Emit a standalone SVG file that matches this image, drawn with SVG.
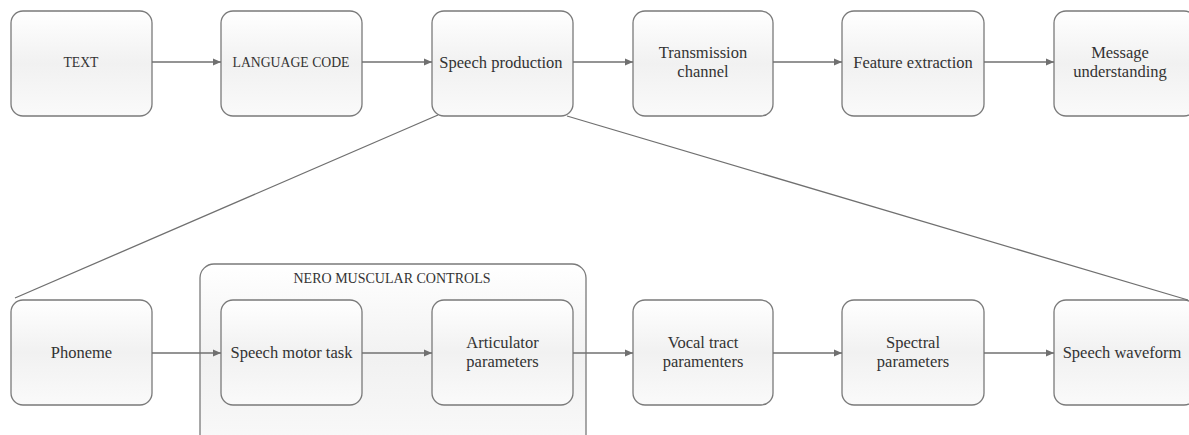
<svg xmlns="http://www.w3.org/2000/svg" width="1189" height="435" viewBox="0 0 1189 435">
<defs>
<linearGradient id="g" x1="0" y1="0" x2="0" y2="1">
<stop offset="0" stop-color="#ffffff"/>
<stop offset="0.5" stop-color="#f1f1f1"/>
<stop offset="1" stop-color="#fafafa"/>
</linearGradient>
<marker id="ah" markerWidth="8" markerHeight="8" refX="8" refY="4" orient="auto" markerUnits="userSpaceOnUse">
<path d="M0,0.5 L8,4 L0,7.5 Z" fill="#707070"/>
</marker>
<style>
.box{fill:url(#g);stroke:#7a7a7a;stroke-width:1.3}
.t{font-family:"Liberation Serif","DejaVu Serif",serif;font-size:16.5px;fill:#333;text-anchor:middle}
.cap{font-size:15.5px}
.c{stroke:#707070;stroke-width:1.3;fill:none}
</style>
</defs>
<rect width="1189" height="435" fill="#fff"/>
<g id="nero">
<rect class="box" x="200" y="264" width="386" height="190" rx="14"/>
<text class="t cap" x="392" y="283" textLength="197" lengthAdjust="spacingAndGlyphs">NERO MUSCULAR CONTROLS</text>
</g>
<g id="text"><rect class="box" x="11" y="11" width="141" height="105" rx="12"/><text class="t cap" x="81" y="67" textLength="35" lengthAdjust="spacingAndGlyphs">TEXT</text></g>
<g id="language"><rect class="box" x="221" y="11" width="141" height="105" rx="12"/><text class="t cap" x="291" y="67" textLength="117" lengthAdjust="spacingAndGlyphs">LANGUAGE CODE</text></g>
<g id="speechprod"><rect class="box" x="432" y="11" width="141" height="105" rx="12"/><text class="t" x="501" y="68">Speech production</text></g>
<g id="transmission"><rect class="box" x="633" y="11" width="140" height="105" rx="12"/><text class="t" x="703" y="58">Transmission</text><text class="t" x="703" y="77">channel</text></g>
<g id="feature"><rect class="box" x="842" y="11" width="142" height="105" rx="12"/><text class="t" x="913" y="68">Feature extraction</text></g>
<g id="message"><rect class="box" x="1054" y="11" width="142" height="105" rx="12"/><text class="t" x="1120" y="58">Message</text><text class="t" x="1120" y="77">understanding</text></g>
<g id="phoneme"><rect class="box" x="11" y="300" width="141" height="105" rx="12"/><text class="t" x="81.5" y="358">Phoneme</text></g>
<g id="motor"><rect class="box" x="221" y="300" width="141" height="105" rx="12"/><text class="t" x="291.5" y="358">Speech motor task</text></g>
<g id="articulator"><rect class="box" x="432" y="300" width="141" height="105" rx="12"/><text class="t" x="502.5" y="348">Articulator</text><text class="t" x="502.5" y="367">parameters</text></g>
<g id="vocal"><rect class="box" x="633" y="300" width="140" height="105" rx="12"/><text class="t" x="703" y="348">Vocal tract</text><text class="t" x="703" y="367">paramenters</text></g>
<g id="spectral"><rect class="box" x="842" y="300" width="142" height="105" rx="12"/><text class="t" x="913" y="348">Spectral</text><text class="t" x="913" y="367">parameters</text></g>
<g id="waveform"><rect class="box" x="1054" y="300" width="142" height="105" rx="12"/><text class="t" x="1122" y="358">Speech waveform</text></g>
<g id="connectors">
<line class="c" x1="152" y1="62" x2="221" y2="62" marker-end="url(#ah)"/>
<line class="c" x1="362" y1="62" x2="432" y2="62" marker-end="url(#ah)"/>
<line class="c" x1="573" y1="62" x2="633" y2="62" marker-end="url(#ah)"/>
<line class="c" x1="773" y1="62" x2="842" y2="62" marker-end="url(#ah)"/>
<line class="c" x1="984" y1="62" x2="1054" y2="62" marker-end="url(#ah)"/>
<line class="c" x1="152" y1="353" x2="221" y2="353" marker-end="url(#ah)"/>
<line class="c" x1="362" y1="353" x2="432" y2="353" marker-end="url(#ah)"/>
<line class="c" x1="573" y1="353" x2="633" y2="353" marker-end="url(#ah)"/>
<line class="c" x1="773" y1="353" x2="842" y2="353" marker-end="url(#ah)"/>
<line class="c" x1="984" y1="353" x2="1054" y2="353" marker-end="url(#ah)"/>
<line class="c" x1="438" y1="115" x2="15" y2="298"/>
<line class="c" x1="567" y1="116" x2="1188" y2="300"/>
</g>
</svg>
